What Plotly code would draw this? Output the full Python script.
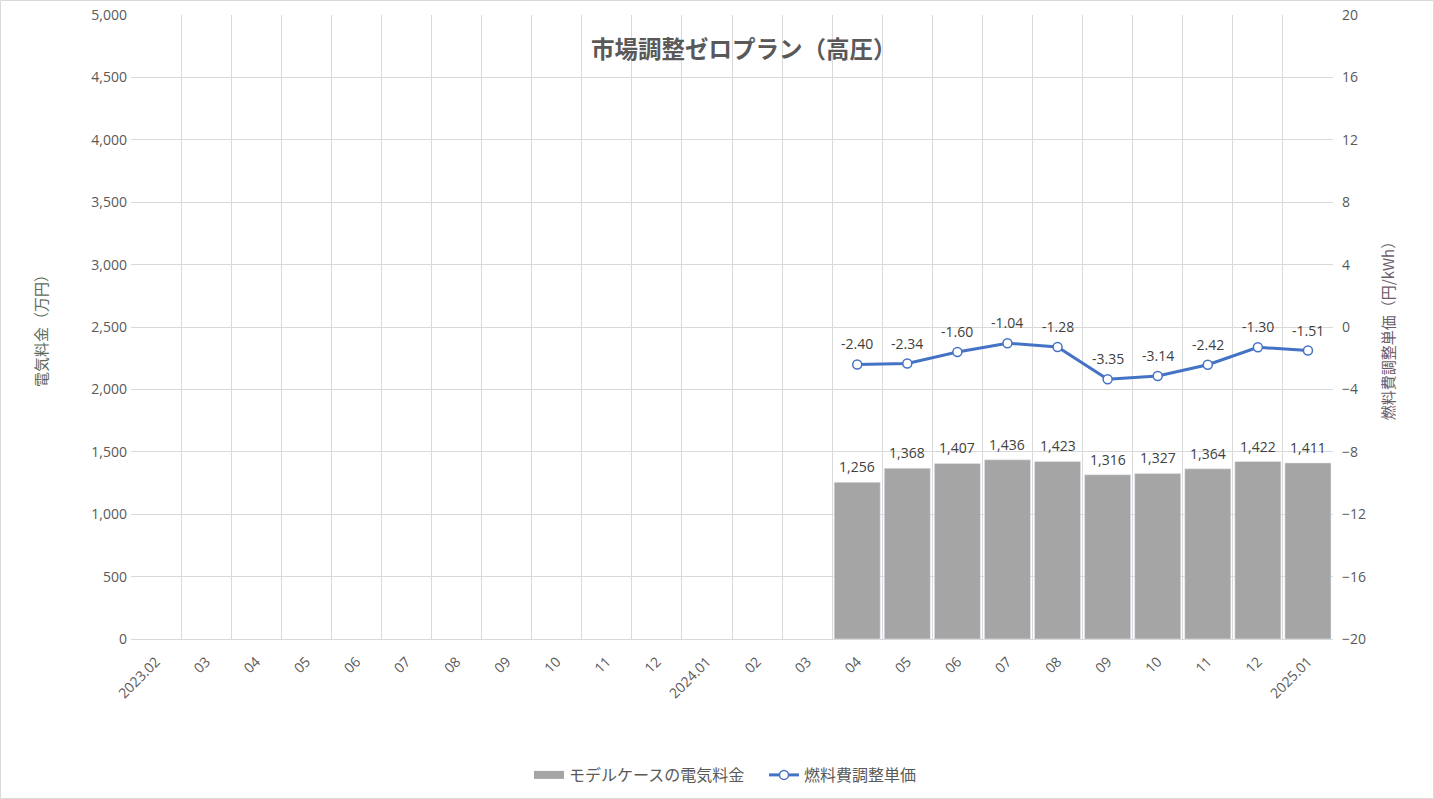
import plotly.graph_objects as go

categories = ["2023.02", "03", "04", "05", "06", "07", "08", "09", "10", "11", "12",
              "2024.01", "02", "03", "04", "05", "06", "07", "08", "09", "10", "11", "12", "2025.01"]
keys = [f"c{i}" for i in range(len(categories))]

bill = [None] * 14 + [1256, 1368, 1407, 1436, 1423, 1316, 1327, 1364, 1422, 1411]
fuel = [None] * 14 + [-2.40, -2.34, -1.60, -1.04, -1.28, -3.35, -3.14, -2.42, -1.30, -1.51]

FONT = "Open Sans, Noto Sans CJK JP"
JP = "Noto Sans CJK JP"
TXT = "#595959"
LBL = "#404040"
BAR = "#a5a5a5"
LINE = "#4472c4"

fig = go.Figure()
fig.add_trace(go.Bar(
    x=keys, y=bill, name="モデルケースの電気料金",
    marker=dict(color=BAR), showlegend=False,
))
# legend entry for the bars (wide rectangle symbol)
fig.add_trace(go.Scatter(
    x=[None], y=[None], name="モデルケースの電気料金", mode="lines",
    line=dict(color=BAR, width=8), showlegend=True,
))
fig.add_trace(go.Scatter(
    x=keys, y=fuel, name="燃料費調整単価", yaxis="y2",
    mode="lines+markers",
    line=dict(color=LINE, width=3),
    marker=dict(size=9, color="white", line=dict(color=LINE, width=1.5)),
    cliponaxis=False,
))

annotations = [dict(
    text="<b>市場調整ゼロプラン（高圧）</b>", xref="paper", yref="paper",
    x=0.51, y=0.947, xanchor="center", yanchor="middle", showarrow=False,
    font=dict(size=23.5, color=TXT, family=JP),
)]
for k, v in zip(keys, bill):
    if v is not None:
        annotations.append(dict(x=k, y=v, xref="x", yref="y", text=f"{v:,}",
                                showarrow=False, yanchor="bottom", yshift=4,
                                font=dict(size=14, color=LBL, family=FONT)))
for k, v in zip(keys, fuel):
    if v is not None:
        annotations.append(dict(x=k, y=v, xref="x", yref="y2", text=f"{v:.2f}",
                                showarrow=False, yanchor="bottom", yshift=9,
                                font=dict(size=14, color=LBL, family=FONT)))

fig.update_layout(
    width=1434, height=799,
    margin=dict(l=131, r=101, t=15, b=160),
    paper_bgcolor="white", plot_bgcolor="white",
    font=dict(family=FONT, color=TXT, size=14),
    bargap=0.08,
    showlegend=True,
    legend=dict(orientation="h", x=(529 - 131) / 1202, xanchor="left", xref="paper",
                y=24 / 799, yanchor="middle", yref="container", entrywidth=190,
                font=dict(size=16, color=TXT, family=JP), traceorder="normal", itemwidth=30),
    xaxis=dict(
        type="category", tickmode="array", tickvals=keys, ticktext=categories,
        tickangle=-45, tickson="boundaries", showgrid=True, gridcolor="#d9d9d9",
        ticks="", showline=True, linecolor="#d9d9d9", automargin=False,
        ticklabelstandoff=8,
        tickfont=dict(size=14, color=TXT), range=[-0.5, 23.5],
    ),
    yaxis=dict(
        range=[0, 5000], dtick=500, tickformat=",", showgrid=True, gridcolor="#d9d9d9",
        zeroline=False, ticks="", tickfont=dict(size=14, color=TXT), automargin=False,
        ticklabelstandoff=3,
        title=dict(text="電気料金（万円）", font=dict(size=15, color="#5b6b5b", family=JP), standoff=40),
    ),
    yaxis2=dict(
        range=[-20, 20], dtick=4, overlaying="y", side="right", showgrid=False,
        zeroline=False, ticks="", tickfont=dict(size=14, color=TXT), automargin=False,
        ticklabelstandoff=8,
        title=dict(text="燃料費調整単価（円/kWh）", font=dict(size=15, color="#6b5b6b", family=JP), standoff=18),
    ),
    annotations=annotations,
    shapes=[dict(
        type="rect", xref="paper", yref="paper",
        x0=-130.5 / 1202, x1=1 + 100.5 / 1202, y0=-159.5 / 624, y1=1 + 14.5 / 624,
        line=dict(color="#d9d9d9", width=1), fillcolor="rgba(0,0,0,0)", layer="below",
    )],
)

fig.write_html("out.html")
